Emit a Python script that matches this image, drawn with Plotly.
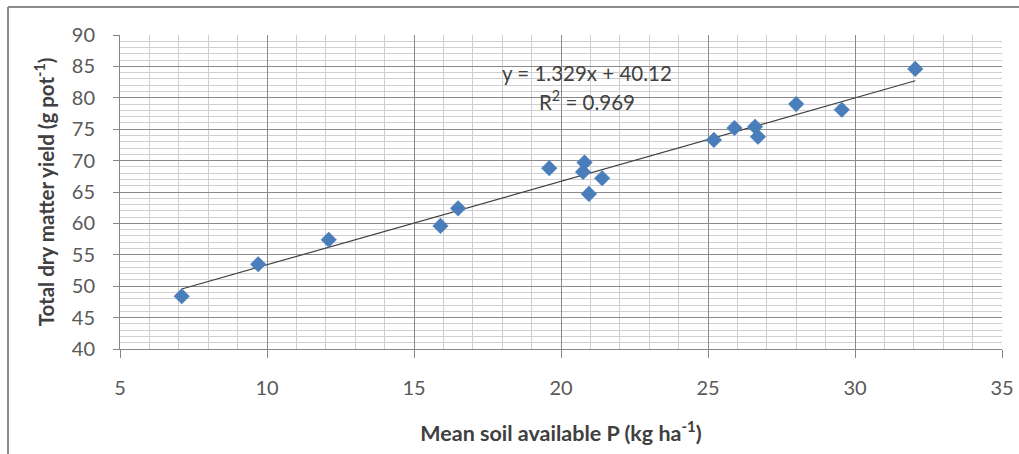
import plotly.graph_objects as go

# Data
soil_p = [7.1, 9.7, 12.1, 15.9, 16.5, 19.6, 20.8, 20.75, 20.95, 21.4,
          25.2, 25.9, 26.6, 26.7, 28.0, 29.55, 32.05]
dm_yield = [48.4, 53.5, 57.4, 59.6, 62.4, 68.8, 69.7, 68.2, 64.7, 67.2,
            73.3, 75.2, 75.4, 73.8, 79.0, 78.1, 84.6]

slope = 1.329
intercept = 40.12
r2 = 0.969

x_ticks = [5, 10, 15, 20, 25, 30, 35]
y_ticks = [40, 45, 50, 55, 60, 65, 70, 75, 80, 85, 90]

xmin, xmax = min(soil_p), max(soil_p)
trend_x = [xmin, xmax]
trend_y = [slope * v + intercept for v in trend_x]

FONT = "Lato, 'Open Sans', sans-serif"

fig = go.Figure()
fig.add_trace(go.Scatter(x=trend_x, y=trend_y, mode="lines",
                         line=dict(color="#404040", width=1.2),
                         hoverinfo="skip", showlegend=False))
fig.add_trace(go.Scatter(x=soil_p, y=dm_yield, mode="markers",
                         marker=dict(symbol="diamond", size=12, color="#4A7EBB",
                                     line=dict(color="#4A7EBB", width=0.5)),
                         showlegend=False))

fig.add_annotation(x=20.88, y=83.95, xref="x", yref="y",
                   text=f"y = {slope}x + {intercept}", showarrow=False,
                   font=dict(family=FONT, size=20.5, color="#404040"))
fig.add_annotation(x=20.88, y=79.65, xref="x", yref="y",
                   text=f"R<sup>2</sup> = {r2}", showarrow=False,
                   font=dict(family=FONT, size=20.5, color="#404040"))

# outer chart frame (top and left)
fig.add_shape(type="line", xref="paper", yref="paper",
              x0=-0.127, x1=1.03, y0=1.0892, y1=1.0892,
              line=dict(color="#8c8c8c", width=2))
fig.add_shape(type="line", xref="paper", yref="paper",
              x0=-0.127, x1=-0.127, y0=1.0892, y1=-0.35,
              line=dict(color="#8c8c8c", width=2))

fig.update_xaxes(range=[5, 35], tickvals=x_ticks, ticktext=[str(t) for t in x_ticks],
                 showgrid=True, gridcolor="#8a8a8a", gridwidth=1,
                 minor=dict(dtick=1, showgrid=True, gridcolor="#cfcfcf", gridwidth=1),
                 showline=True, linecolor="#868686", linewidth=1,
                 ticks="outside", ticklen=8, tickcolor="#868686",
                 ticklabelstandoff=13, automargin=False,
                 tickfont=dict(family=FONT, size=20, color="#595959"),
                 zeroline=False,
                 title=dict(text="Mean soil available P (kg ha<sup>-1</sup>)",
                            font=dict(family=FONT, size=21.5, color="#404040", weight="bold"),
                            standoff=27))
fig.update_yaxes(range=[40, 90], tickvals=y_ticks, ticktext=[str(t) for t in y_ticks],
                 showgrid=True, gridcolor="#8a8a8a", gridwidth=1,
                 minor=dict(dtick=1, showgrid=True, gridcolor="#cfcfcf", gridwidth=1),
                 showline=True, linecolor="#868686", linewidth=1,
                 ticks="outside", ticklen=6, tickcolor="#868686",
                 ticklabelstandoff=14, automargin=False,
                 tickfont=dict(family=FONT, size=20, color="#595959"),
                 zeroline=False,
                 title=dict(text="Total dry matter yield (g pot<sup>-1</sup>)",
                            font=dict(family=FONT, size=20.5, color="#404040", weight="bold"),
                            standoff=11))

fig.update_layout(width=1019, height=454,
                  margin=dict(l=120, r=17, t=35, b=105),
                  paper_bgcolor="white", plot_bgcolor="white",
                  showlegend=False)

fig.write_html("out.html",
               config={"displayModeBar": False},
               post_script="document.body.style.margin='0';document.body.style.overflow='hidden';")
